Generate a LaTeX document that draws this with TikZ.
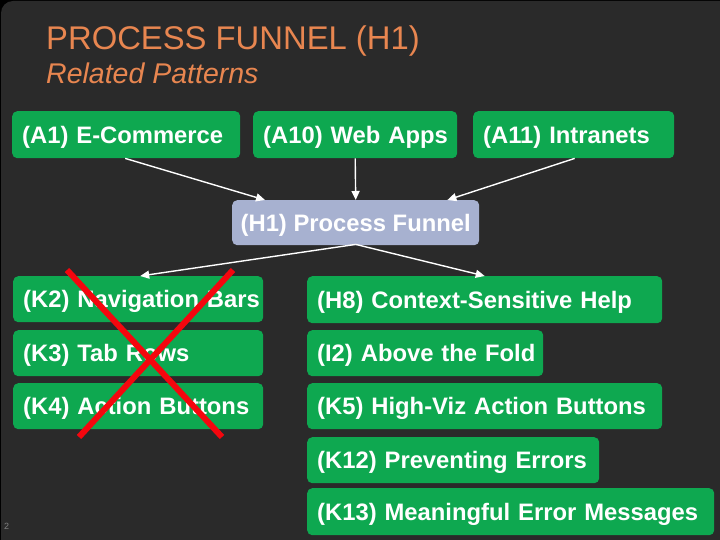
\documentclass[tikz,border=0pt]{standalone}
\usepackage{fontspec}
\setmainfont{Liberation Sans}
\usetikzlibrary{arrows.meta}
\definecolor{bgdark}{RGB}{42,42,42}
\definecolor{boxgreen}{RGB}{14,168,80}
\definecolor{lavender}{RGB}{167,177,208}
\definecolor{titleorange}{RGB}{232,134,80}
\definecolor{xred}{RGB}{245,6,14}
\newcommand{\nowrap}[1]{\makebox[0pt][l]{#1}}
\tikzset{
  gbox/.style={fill=boxgreen, rounded corners=5pt, text=white,
    font=\bfseries\fontsize{23.8}{24}\selectfont, inner xsep=10pt, inner ysep=0pt,
    minimum height=#1, text height=17pt, text depth=0pt, align=left, anchor=north west},
  gbox/.default=46pt,
  hbox/.style={fill=lavender, rounded corners=5pt, text=white,
    font=\bfseries\fontsize{23.8}{24}\selectfont, inner xsep=0pt, inner ysep=0pt,
    minimum height=45pt, minimum width=247pt, text height=17pt, text depth=0pt, anchor=north west},
  conn/.style={draw=white, line width=1.4pt, -{Triangle[length=9pt,width=8pt]}},
  crossline/.style={draw=xred, line width=6pt},
}
\begin{document}
\begin{tikzpicture}[x=1pt,y=-1pt]
\useasboundingbox (0,0) rectangle (720,540);
\fill[black] (0,0) rectangle (720,540);
\fill[bgdark, rounded corners=12pt] (1,1) rectangle (740,560);

\node[anchor=base west, inner sep=0pt, text=titleorange, font=\fontsize{32.8}{33}\selectfont] (title) at (46,50) {PROCESS FUNNEL (H1)};
\node[anchor=base west, inner sep=0pt, text=titleorange, font=\itshape\fontsize{28.5}{29}\selectfont] (sub) at (46,84) {Related Patterns};

\node[gbox=47pt, text width=208pt] (a1) at (12,111) {\nowrap{(A1) E-Commerce}};
\node[gbox=47pt, text width=184pt] (a10) at (253,111) {\nowrap{(A10) Web Apps}};
\node[gbox=47pt, text width=181pt] (a11) at (473,111) {\nowrap{(A11) Intranets}};

\node[hbox] (h1) at (232,200) {(H1) Process Funnel};

\node[gbox, text width=230pt] (k2) at (13,276) {\nowrap{(K2) Navigation Bars}};
\node[gbox, text width=230pt] (k3) at (13,330) {\nowrap{(K3) Tab Rows}};
\node[gbox, text width=230pt] (k4) at (13,383) {\nowrap{(K4) Action Buttons}};

\node[gbox=47pt, text width=335pt] (h8) at (307,276) {\nowrap{(H8) Context-Sensitive Help}};
\node[gbox, text width=216pt] (i2) at (307,330) {\nowrap{(I2) Above the Fold}};
\node[gbox, text width=335pt] (k5) at (307,383) {\nowrap{(K5) High-Viz Action Buttons}};
\node[gbox, text width=272pt] (k12) at (307,437) {\nowrap{(K12) Preventing Errors}};
\node[gbox=47pt, text width=387pt] (k13) at (307,488) {\nowrap{(K13) Meaningful Error Messages}};

\draw[conn] ([xshift=-1pt]a1.south) -- ([xshift=33pt]h1.north west);
\draw[conn] (a10.south) -- (h1.north);
\draw[conn] ([xshift=1pt]a11.south) -- ([xshift=-32pt]h1.north east);
\draw[conn] ([yshift=1pt]h1.south) -- ([xshift=2pt]k2.north);
\draw[conn] ([yshift=1pt]h1.south) -- (h8.north);

\coordinate (x1a) at (67,270);
\coordinate (x1b) at (222,437);
\coordinate (x2a) at (233,270);
\coordinate (x2b) at (79,437);
\draw[crossline] (x1a) -- (x1b);
\draw[crossline] (x2a) -- (x2b);

\node[anchor=base west, inner sep=0pt, text=gray, font=\fontsize{9}{9}\selectfont] (pg) at (4,529) {2};
\end{tikzpicture}
\end{document}
